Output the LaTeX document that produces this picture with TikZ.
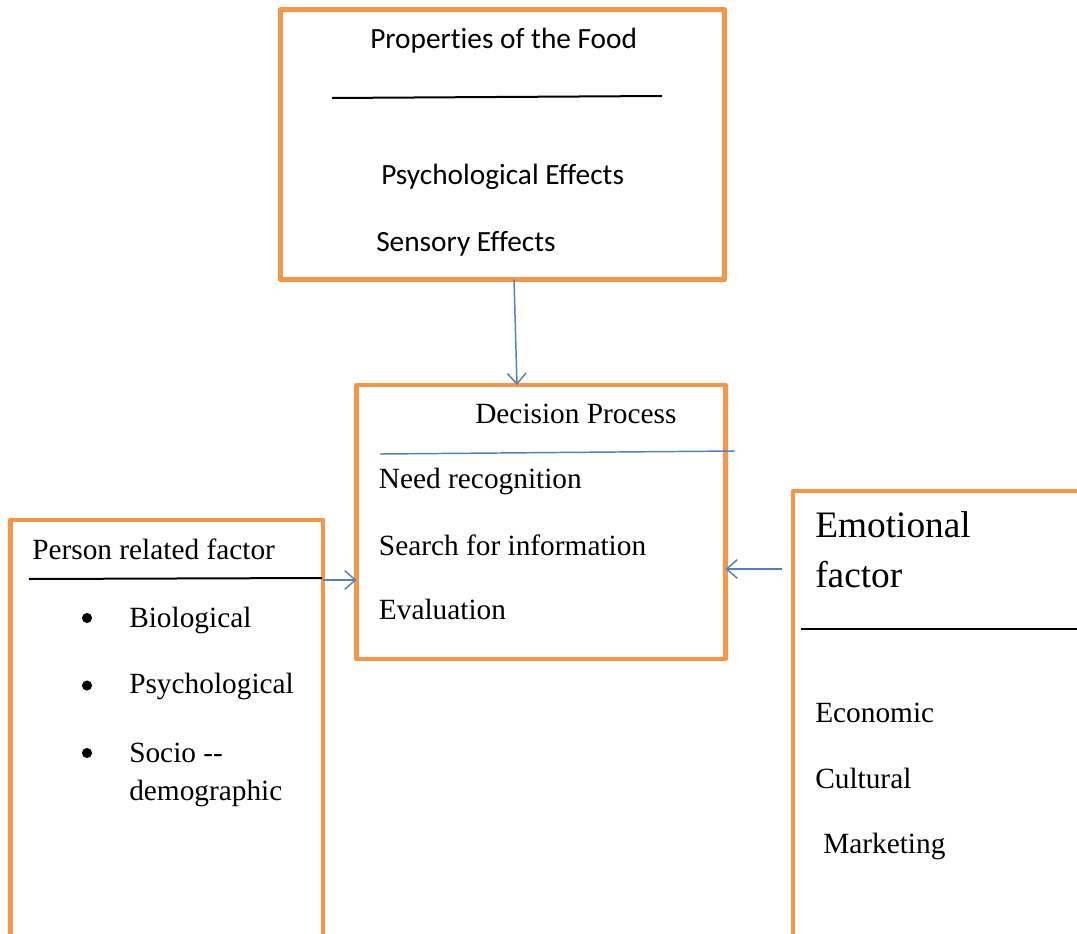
\documentclass[tikz,border=0pt]{standalone}
\usepackage{fontspec}
\setmainfont{Liberation Serif}
\newfontfamily\calfont[Ligatures=NoCommon]{Carlito}
\usetikzlibrary{arrows.meta,calc}
\definecolor{boxorange}{HTML}{F79646}
\definecolor{linkblue}{HTML}{4F81BD}
\begin{document}
\begin{tikzpicture}[x=0.75pt,y=-0.75pt,
  box/.style={draw=boxorange,line width=3.2pt,line join=round,inner sep=0pt,outer sep=0pt},
  txt/.style={anchor=base west,inner sep=0pt,font=\fontsize{22}{26}\selectfont},
  stxt/.style={anchor=base west,inner sep=0pt,font=\calfont\fontsize{22}{26}\selectfont},
  btxt/.style={anchor=base west,inner sep=0pt,font=\fontsize{28}{32}\selectfont},
  bul/.style={circle,fill=black,inner sep=0pt,minimum size=7.6pt},
  sep/.style={line width=1.5pt,black},
  link/.style={draw=linkblue,line width=1.1pt,-{Straight Barb[length=8pt,width=14pt]}}]
\useasboundingbox (0,0) rectangle (1077,934);
\clip (0,0) rectangle (1077,934);
% boxes
\node[box,minimum width=333pt,minimum height=202.5pt] (food) at (502.5,144.5) {};
\node[box,minimum width=276.75pt,minimum height=205.5pt] (decision) at (541,522) {};
\node[box,minimum width=234.6pt,minimum height=360pt] (person) at (166.9,760) {};
\node[box,minimum width=267.5pt,minimum height=381.75pt] (emo) at (971.65,745.5) {};
% separators
\draw[sep] (332,98) -- (662,96);
\draw[draw=linkblue,line width=1.1pt] (380,454) -- (735,451);
\draw[sep] (29,579) -- (322,578);
\draw[sep] (801,628.5) -- (1077,628.5);
% texts: food
\node[stxt] (t1) at (370,49) {Properties of the Food};
\node[stxt] (t2) at (381,185) {Psychological Effects};
\node[stxt] (t3) at (376,252) {Sensory Effects};
% decision
\node[txt] (d0) at (475,423) {Decision Process};
\node[txt] (d1) at (378.7,488) {Need recognition};
\node[txt] (d2) at (378.7,555) {Search for information};
\node[txt] (d3) at (378.7,619) {Evaluation};
% person
\node[txt] (p0) at (32,559) {Person related factor};
\node[bul] (b1) at (87,618) {};
\node[bul] (b2) at (87,685.5) {};
\node[bul] (b3) at (87,753) {};
\node[txt] (p1) at (129,627) {Biological};
\node[txt] (p2) at (129,693) {Psychological};
\node[txt] (p3) at (129,762) {Socio -{}-};
\node[txt] (p4) at (129,800) {demographic};
% emotional
\node[btxt] (e0) at (815,537) {Emotional};
\node[btxt] (e1) at (815,587) {factor};
\node[txt] (e2) at (815,722) {Economic};
\node[txt] (e3) at (815,788) {Cultural};
\node[txt] (e4) at (823,853) {Marketing};
% connectors
\draw[link] ($(food.south)+(11.5,0)$) -- ($(decision.north)+(-24,0)$);
\coordinate (pstart) at ($(person.north east)+(0,60)$);
\draw[link] (pstart) -- (pstart -| decision.west);
\coordinate (estart) at ($(emo.north west)+(-11,78)$);
\draw[link] (estart) -- (estart -| decision.east);
\end{tikzpicture}
\end{document}
